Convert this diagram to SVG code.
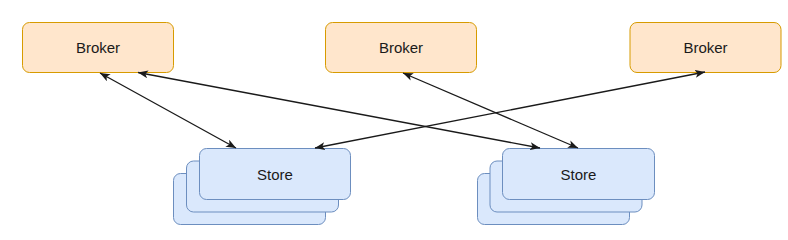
<svg xmlns="http://www.w3.org/2000/svg" width="788" height="240" viewBox="0 0 788 240">
  <style>
    .broker { fill: #ffe6cc; stroke: #d79b00; stroke-width: 1; }
    .store { fill: #dae8fc; stroke: #6c8ebf; stroke-width: 1; }
    .label { font-family: "Liberation Sans", Arial, sans-serif; font-size: 15px; fill: #1a1a1a; text-anchor: middle; dominant-baseline: central; }
    .conn { stroke: #1a1a1a; stroke-width: 1.3; fill: none; marker-start: url(#arrow); marker-end: url(#arrow); }
  </style>
  <defs>
    <marker id="arrow" viewBox="0 0 10 8" refX="10" refY="4" markerWidth="10" markerHeight="8" markerUnits="userSpaceOnUse" orient="auto-start-reverse">
      <path d="M0,0 L10,4 L0,8 L2.5,4 Z" fill="#1a1a1a"/>
    </marker>
  </defs>
  <rect width="788" height="240" fill="#ffffff"/>

  <g id="broker1">
    <rect class="broker" x="22.5" y="22.5" width="151" height="50" rx="7"/>
    <text class="label" x="98" y="47">Broker</text>
  </g>
  <g id="broker2">
    <rect class="broker" x="325.5" y="22.5" width="151" height="50" rx="7"/>
    <text class="label" x="401" y="47">Broker</text>
  </g>
  <g id="broker3">
    <rect class="broker" x="630" y="22.5" width="151" height="50" rx="7"/>
    <text class="label" x="705.5" y="47">Broker</text>
  </g>

  <g id="store1">
    <rect class="store" x="173.5" y="173.5" width="152" height="51" rx="7"/>
    <rect class="store" x="186.5" y="161" width="152" height="51" rx="7"/>
    <rect class="store" x="199.5" y="148.5" width="151" height="51" rx="7"/>
    <text class="label" x="275" y="174">Store</text>
  </g>
  <g id="store2">
    <rect class="store" x="477.5" y="173.5" width="152" height="51" rx="7"/>
    <rect class="store" x="490" y="161" width="152" height="51" rx="7"/>
    <rect class="store" x="502.5" y="148.5" width="152" height="51" rx="7"/>
    <text class="label" x="578.5" y="174">Store</text>
  </g>

  <g id="connectors">
    <line class="conn" x1="100" y1="73" x2="236" y2="148"/>
    <line class="conn" x1="138" y1="72.5" x2="540" y2="148"/>
    <line class="conn" x1="403" y1="73" x2="578" y2="148"/>
    <line class="conn" x1="315" y1="148" x2="705" y2="72"/>
  </g>
</svg>
